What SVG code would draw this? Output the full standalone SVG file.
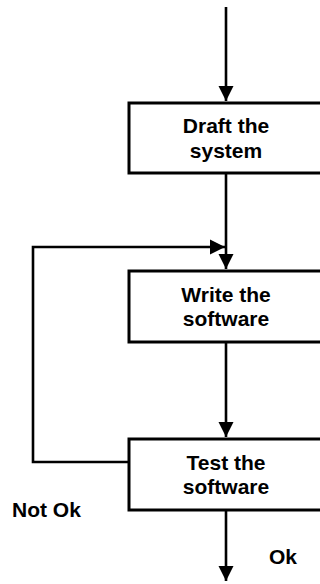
<svg xmlns="http://www.w3.org/2000/svg" width="320" height="584" viewBox="0 0 320 584">
  <style>
    .box { fill: #ffffff; stroke: #000000; stroke-width: 3; }
    .line { fill: none; stroke: #000000; stroke-width: 2.6; }
    .label { font-family: "Liberation Sans", Arial, sans-serif; font-weight: bold; font-size: 21px; fill: #000000; }
    .mid { text-anchor: middle; }
  </style>
  <defs>
    <marker id="arrow" markerUnits="userSpaceOnUse" markerWidth="16" markerHeight="16" viewBox="0 0 16 16" refX="15" refY="8" orient="auto">
      <path d="M0,0.5 L15,8 L0,15.5 Z" fill="#000000"/>
    </marker>
  </defs>

  <g id="connectors">
    <line class="line" x1="226" y1="7" x2="226" y2="101" marker-end="url(#arrow)"/>
    <line class="line" x1="226" y1="174" x2="226" y2="269" marker-end="url(#arrow)"/>
    <line class="line" x1="226" y1="343" x2="226" y2="437" marker-end="url(#arrow)"/>
    <line class="line" x1="226" y1="510" x2="226" y2="581" marker-end="url(#arrow)"/>
    <polyline class="line" points="129,462 33,462 33,247 225,247" marker-end="url(#arrow)"/>
  </g>

  <g id="draft">
    <rect class="box" x="129" y="103" width="200" height="70"/>
    <text class="label mid" x="226" y="133">Draft the</text>
    <text class="label mid" x="226" y="158">system</text>
  </g>

  <g id="write">
    <rect class="box" x="129" y="271" width="200" height="71"/>
    <text class="label mid" x="226" y="302">Write the</text>
    <text class="label mid" x="226" y="326">software</text>
  </g>

  <g id="test">
    <rect class="box" x="129" y="439" width="200" height="71"/>
    <text class="label mid" x="226" y="470">Test the</text>
    <text class="label mid" x="226" y="494">software</text>
  </g>

  <g id="labels">
    <text class="label" x="12" y="517">Not Ok</text>
    <text class="label" x="269" y="564">Ok</text>
  </g>
</svg>
